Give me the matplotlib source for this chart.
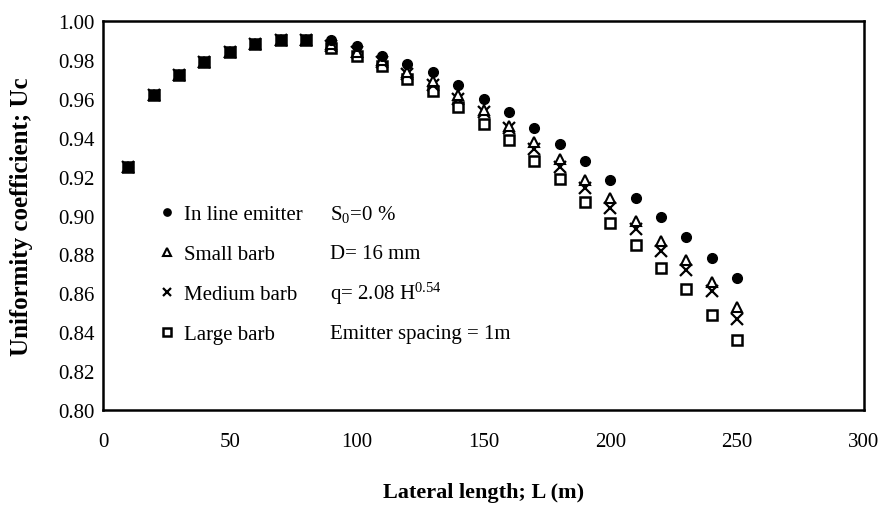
import matplotlib
matplotlib.use("Agg")
import matplotlib.pyplot as plt

plt.rcParams['font.family'] = ['Liberation Serif', 'DejaVu Serif']
plt.rcParams['mathtext.fontset'] = 'custom'
plt.rcParams['mathtext.rm'] = 'Liberation Serif'
plt.rcParams['mathtext.default'] = 'regular'

lateral_length = [10, 20, 30, 40, 50, 60, 70, 80, 90, 100, 110, 120, 130,
                  140, 150, 160, 170, 180, 190, 200, 210, 220, 230, 240, 250]
in_line = [0.925, 0.962, 0.972, 0.979, 0.984, 0.988, 0.990, 0.990, 0.990, 0.987,
           0.982, 0.978, 0.974, 0.967, 0.960, 0.953, 0.945, 0.937, 0.928, 0.918,
           0.909, 0.899, 0.889, 0.878, 0.868]
small_barb = [0.925, 0.962, 0.972, 0.979, 0.984, 0.988, 0.990, 0.990, 0.988, 0.984,
              0.980, 0.974, 0.969, 0.962, 0.954, 0.946, 0.938, 0.929, 0.918, 0.909,
              0.897, 0.887, 0.877, 0.866, 0.853]
medium_barb = [0.925, 0.962, 0.972, 0.979, 0.984, 0.988, 0.990, 0.990, 0.987, 0.984,
               0.979, 0.973, 0.967, 0.960, 0.953, 0.945, 0.934, 0.925, 0.914, 0.904,
               0.893, 0.882, 0.872, 0.861, 0.847]
large_barb = [0.925, 0.962, 0.972, 0.979, 0.984, 0.988, 0.990, 0.990, 0.986, 0.982,
              0.977, 0.970, 0.964, 0.956, 0.947, 0.939, 0.928, 0.919, 0.907, 0.896,
              0.885, 0.873, 0.862, 0.849, 0.836]

series_labels = ["In line emitter", "Small barb", "Medium barb", "Large barb"]
x_ticks = [0, 50, 100, 150, 200, 250, 300]
y_ticks = [0.80, 0.82, 0.84, 0.86, 0.88, 0.90, 0.92, 0.94, 0.96, 0.98, 1.00]
notes = ["S$_0$=0 %", "D= 16 mm", "q= 2.08 H$^{0.54}$", "Emitter spacing = 1m"]

fig = plt.figure(figsize=(8.84, 5.06), dpi=100)
ax = fig.add_axes([103/884, 1 - 411/506, (864-103)/884, (411-22)/506])

ax.plot(lateral_length, large_barb, ls='none', marker='s', ms=7, mfc='white',
        mec='black', mew=1.8, label=series_labels[3], zorder=3)
ax.plot(lateral_length, medium_barb, ls='none', marker='x', ms=8, mec='black',
        mew=1.6, label=series_labels[2], zorder=4)
ax.plot(lateral_length, small_barb, ls='none', marker='^', ms=7.5, mfc='white',
        mec='black', mew=1.5, label=series_labels[1], zorder=5)
ax.plot(lateral_length, in_line, ls='none', marker='o', ms=7, mfc='black',
        mec='black', label=series_labels[0], zorder=6)

ax.set_xlim(0, 300)
ax.set_ylim(0.80, 1.00)
ax.set_xticks(x_ticks)
ax.set_xticklabels([str(v) for v in x_ticks])
ax.set_yticks(y_ticks)
ax.set_yticklabels([f"{v:.2f}" for v in y_ticks])
ax.tick_params(length=0, labelsize=15, pad=6)
ax.tick_params(axis='x', pad=16)
for s in ax.spines.values():
    s.set_linewidth(1.8)
    s.set_color('black')

ax.set_xlabel("Lateral length; L (m)", fontsize=16, fontweight='bold', labelpad=22)
ax.set_ylabel("Uniformity coefficient; Uc", fontsize=18, fontweight='bold', labelpad=18)

handles, labels = ax.get_legend_handles_labels()
order = [3, 2, 1, 0]
leg = ax.legend([handles[i] for i in order], [labels[i] for i in order],
                loc='upper left', bbox_to_anchor=(0.065, 0.55), frameon=False,
                fontsize=15, handlelength=0.6, handletextpad=0.5,
                labelspacing=0.98, markerscale=0.75, borderaxespad=0)

for i, t in enumerate(notes):
    ax.text(89.5, 0.901 - i * 0.0205, t, fontsize=15, va='center', ha='left')

fig.savefig("out.png", dpi=100, facecolor='white')
